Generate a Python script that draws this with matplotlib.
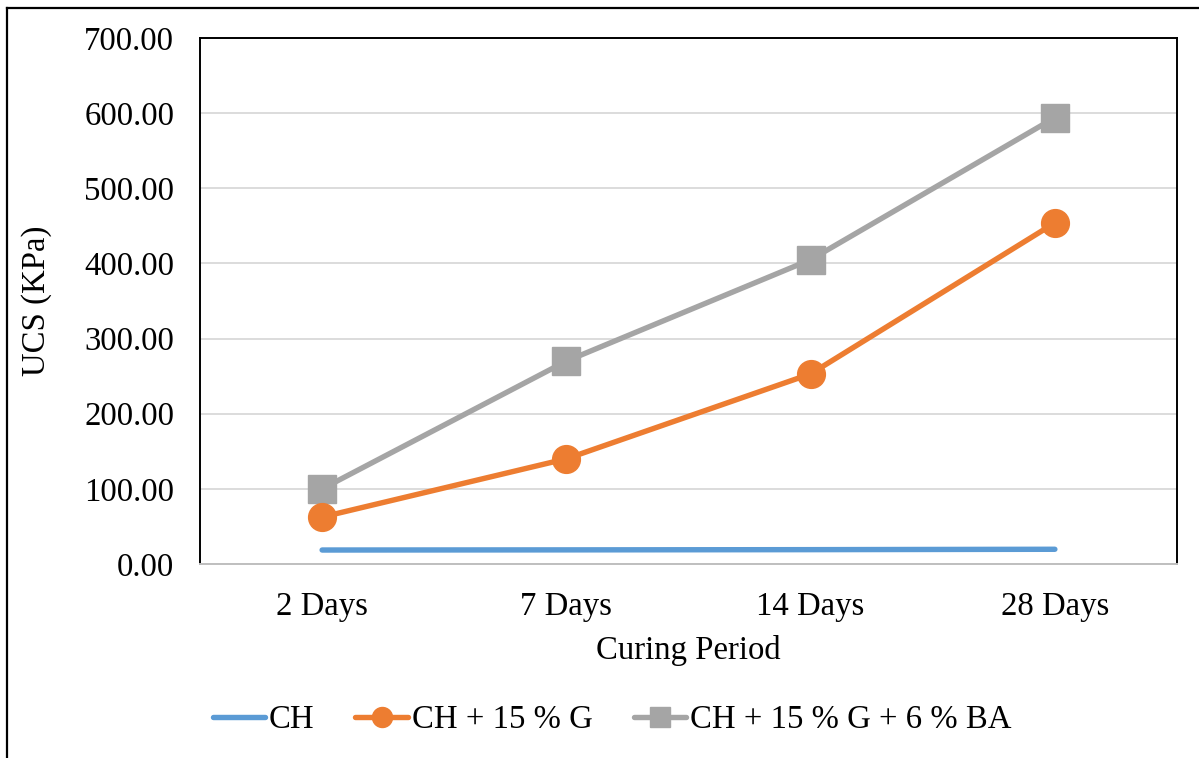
import matplotlib
matplotlib.use("Agg")
import matplotlib.pyplot as plt
from matplotlib.lines import Line2D

# Curing periods and UCS results (kPa)
categories = ["2 Days", "7 Days", "14 Days", "28 Days"]
ucs_ch = [18.6, 18.8, 19.1, 19.6]
ucs_ch_g = [62.5, 140.0, 253.0, 454.0]
ucs_ch_g_ba = [100.0, 270.0, 405.0, 594.0]

series_labels = ["CH", "CH + 15 % G", "CH + 15 % G + 6 % BA"]
yticks = [0, 100, 200, 300, 400, 500, 600, 700]

BLUE = "#5B9BD5"
ORANGE = "#ED7D31"
GREY = "#A5A5A5"

plt.rcParams["font.family"] = ["Liberation Serif", "DejaVu Serif"]
FS = 23.6

W, H = 1199, 758
fig = plt.figure(figsize=(W / 100, H / 100), dpi=100)

# outer chart frame (left and top edges)
fig.add_artist(Line2D([7 / W, 7 / W], [0, 1 - 8 / H], transform=fig.transFigure,
                      color="black", lw=1.6, solid_capstyle="projecting"))
fig.add_artist(Line2D([7 / W, 1.0], [1 - 8 / H, 1 - 8 / H], transform=fig.transFigure,
                      color="black", lw=1.6, solid_capstyle="projecting"))

ax = fig.add_axes([200 / W, (H - 564) / H, 977 / W, 526 / H])

x = list(range(len(categories)))
ax.plot(x, ucs_ch, color=BLUE, lw=3.9, solid_capstyle="round", label=series_labels[0], zorder=3)
ax.plot(x, ucs_ch_g, color=ORANGE, lw=3.9, marker="o", markersize=20,
        solid_capstyle="round", label=series_labels[1], zorder=4)
ax.plot(x, ucs_ch_g_ba, color=GREY, lw=3.9, marker="s", markersize=20,
        solid_capstyle="round", label=series_labels[2], zorder=3)

ax.set_xlim(-0.5, len(categories) - 0.5)
ax.set_ylim(0, 700)
ax.set_yticks(yticks)
ax.set_yticklabels([f"{v:.2f}" for v in yticks], fontsize=FS)
ax.set_xticks(x)
ax.set_xticklabels(categories, fontsize=FS)
ax.tick_params(axis="both", length=0)
ax.tick_params(axis="y", pad=18.5)
ax.tick_params(axis="x", pad=19.5)

ax.yaxis.grid(True, color="#D9D9D9", lw=1.3)
ax.set_axisbelow(True)

for side in ("left", "top", "right"):
    ax.spines[side].set_color("black")
    ax.spines[side].set_linewidth(1.4)
ax.spines["bottom"].set_color("#BFBFBF")
ax.spines["bottom"].set_linewidth(1.4)

ax.set_xlabel("Curing Period", fontsize=FS, labelpad=10)
ax.set_ylabel("UCS (KPa)", fontsize=FS, labelpad=23)

handles, labels = ax.get_legend_handles_labels()
fig.legend(handles, labels, loc="center", bbox_to_anchor=(612 / W, 1 - 720 / H),
           ncol=3, frameon=False, fontsize=FS, handlelength=1.6, handletextpad=0.12,
           columnspacing=1.25, borderaxespad=0, markerscale=0.72)

fig.savefig("out.png", dpi=100)
